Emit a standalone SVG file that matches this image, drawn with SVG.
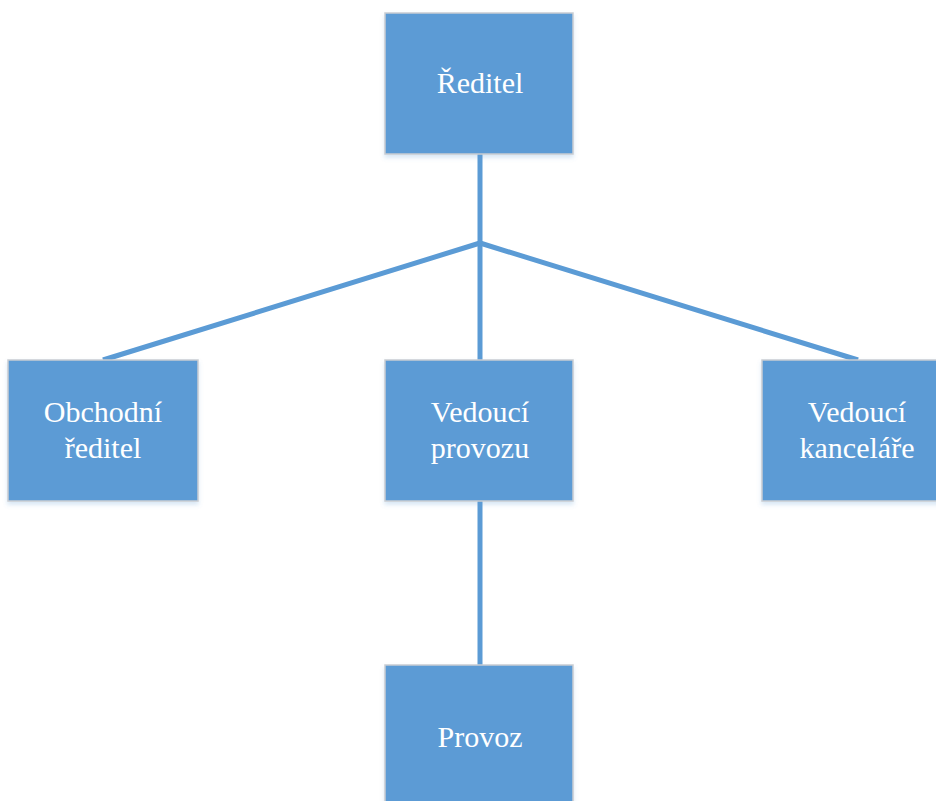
<svg xmlns="http://www.w3.org/2000/svg" width="936" height="801" viewBox="0 0 936 801">
<defs>
<filter id="sh" x="-10%" y="-10%" width="120%" height="130%">
<feDropShadow dx="0" dy="3" stdDeviation="2" flood-color="#5B9BD5" flood-opacity="0.25"/>
</filter>
</defs>
<style>
.box{fill:#5B9BD5;stroke:#C9CDD2;stroke-width:1.5;filter:url(#sh)}
.lbl{font-family:"Liberation Serif","Times New Roman","DejaVu Serif",serif;font-size:30px;fill:#FFFFFF;text-anchor:middle}
.con{stroke:#5B9BD5;stroke-width:5;fill:none;stroke-linecap:butt}
</style>
<rect width="936" height="801" fill="#FFFFFF"/>
<g id="connectors">
<line class="con" x1="480" y1="154" x2="480" y2="360"/>
<polyline class="con" points="103,360 480,243 858,360" stroke-linejoin="round"/>
<line class="con" x1="480" y1="501" x2="480" y2="665"/>
</g>
<g id="reditel">
<rect class="box" x="385" y="13" width="188" height="141"/>
<text class="lbl" x="480" y="93">Ředitel</text>
</g>
<g id="obchodni-reditel">
<rect class="box" x="8" y="360" width="190" height="141"/>
<text class="lbl" x="103" y="422">Obchodní</text>
<text class="lbl" x="103" y="458">ředitel</text>
</g>
<g id="vedouci-provozu">
<rect class="box" x="385" y="360" width="188" height="141"/>
<text class="lbl" x="480" y="422">Vedoucí</text>
<text class="lbl" x="480" y="458">provozu</text>
</g>
<g id="vedouci-kancelare">
<rect class="box" x="762" y="360" width="190" height="141"/>
<text class="lbl" x="857" y="422">Vedoucí</text>
<text class="lbl" x="857" y="458">kanceláře</text>
</g>
<g id="provoz">
<rect class="box" x="385" y="665" width="188" height="150"/>
<text class="lbl" x="480" y="747">Provoz</text>
</g>
</svg>
